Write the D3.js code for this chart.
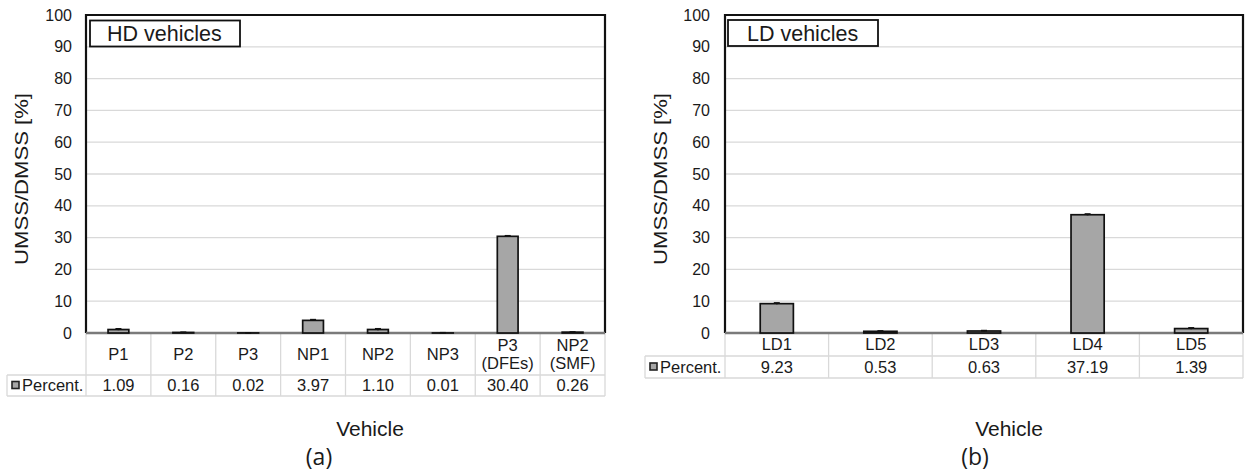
<!DOCTYPE html>
<html>
<head>
<meta charset="utf-8">
<script src="https://cdn.jsdelivr.net/npm/d3@7"></script>
<style>
  html, body { margin: 0; padding: 0; background: #fff; }
  svg { display: block; }
  text { font-family: Arial, "Liberation Sans", sans-serif; fill: #1a1a1a; }
</style>
</head>
<body>
<svg id="chart" width="1246" height="476"></svg>
<script>
// ---- data ----
const yTicks = [0, 10, 20, 30, 40, 50, 60, 70, 80, 90, 100];

const hdCategories = ["P1", "P2", "P3", "NP1", "NP2", "NP3", "P3\n(DFEs)", "NP2\n(SMF)"];
const hdValues = [1.09, 0.16, 0.02, 3.97, 1.10, 0.01, 30.40, 0.26];
const hdErrors = [0.2, 0.05, 0.02, 0.2, 0.2, 0.05, 0.15, 0.05];

const ldCategories = ["LD1", "LD2", "LD3", "LD4", "LD5"];
const ldValues = [9.23, 0.53, 0.63, 37.19, 1.39];
const ldErrors = [0.2, 0.1, 0.1, 0.2, 0.2];

const seriesName = "Percent.";
const yTitle = "UMSS/DMSS [%]";
const xTitle = "Vehicle";

// ---- drawing ----
const svg = d3.select("#chart");
const gridColor = "#d9d9d9";
const barFill = "#a6a6a6";

function drawPanel(o) {
  const g = svg.append("g");
  const x = d3.scaleBand().domain(o.categories).range([o.left, o.right]).padding(0);
  const y = d3.scaleLinear().domain([0, 100]).range([o.bottom, o.top]);

  // gridlines
  g.append("g").selectAll("line").data(yTicks.filter(t => t > 0 && t < 100)).join("line")
    .attr("x1", o.left).attr("x2", o.right)
    .attr("y1", d => y(d)).attr("y2", d => y(d))
    .attr("stroke", gridColor).attr("stroke-width", 1.3);

  // y axis labels via d3 axis
  const yAxis = d3.axisLeft(y).tickValues(yTicks).tickSize(0).tickPadding(0);
  const ya = g.append("g").attr("transform", `translate(${o.tickRight},0)`).call(yAxis);
  ya.select(".domain").remove();
  ya.selectAll("text").style("font-size", "16px").style("font-family", "Arial, 'Liberation Sans', sans-serif").attr("fill", "#1a1a1a");

  // table lines
  const tg = g.append("g").attr("stroke", gridColor).attr("stroke-width", 1.3);
  const edges = o.categories.map(c => x(c)).concat([o.right]);
  tg.selectAll("line.v").data(edges).join("line").attr("class", "v")
    .attr("x1", d => d).attr("x2", d => d)
    .attr("y1", o.bottom).attr("y2", o.valBottom);
  tg.append("line").attr("x1", o.legendLeft).attr("x2", o.right).attr("y1", o.catBottom).attr("y2", o.catBottom);
  tg.append("line").attr("x1", o.legendLeft).attr("x2", o.right).attr("y1", o.valBottom).attr("y2", o.valBottom);
  tg.append("line").attr("x1", o.legendLeft).attr("x2", o.legendLeft).attr("y1", o.catBottom).attr("y2", o.valBottom);

  // plot border (left, top, right) and baseline
  g.append("path")
    .attr("d", `M${o.left},${o.bottom}V${o.top}H${o.right}V${o.bottom}`)
    .attr("fill", "none").attr("stroke", "#111").attr("stroke-width", 2.2);
  g.append("line").attr("x1", o.left).attr("x2", o.right)
    .attr("y1", o.bottom).attr("y2", o.bottom)
    .attr("stroke", "#7a7a7a").attr("stroke-width", 2.5);

  // bars
  const bw = x.bandwidth() * 0.32;
  g.append("g").selectAll("rect").data(o.values).join("rect")
    .attr("x", (d, i) => x(o.categories[i]) + (x.bandwidth() - bw) / 2)
    .attr("y", d => y(d))
    .attr("width", bw)
    .attr("height", d => o.bottom - y(d))
    .attr("fill", barFill).attr("stroke", "#111").attr("stroke-width", 1.7);

  // error bars
  const eg = g.append("g").attr("stroke", "#111").attr("stroke-width", 1.8);
  o.values.forEach((v, i) => {
    const cx = x(o.categories[i]) + x.bandwidth() / 2;
    const e = o.errors[i];
    eg.append("line").attr("x1", cx).attr("x2", cx).attr("y1", y(v - e)).attr("y2", y(v + e));
    eg.append("line").attr("x1", cx - 3).attr("x2", cx + 3).attr("y1", y(v + e)).attr("y2", y(v + e));
  });

  // category labels
  const catMid = (o.bottom + o.catBottom) / 2;
  o.categories.forEach(c => {
    const lines = c.split("\n");
    const cx = x(c) + x.bandwidth() / 2;
    const t = g.append("text").attr("text-anchor", "middle").style("font-size", "16.5px");
    lines.forEach((ln, j) => {
      t.append("tspan").attr("x", cx)
        .attr("y", catMid + (j - (lines.length - 1) / 2) * 18)
        .attr("dy", "0.35em").text(ln);
    });
  });

  // value labels
  const valMid = (o.catBottom + o.valBottom) / 2;
  g.append("g").selectAll("text").data(o.values).join("text")
    .attr("x", (d, i) => x(o.categories[i]) + x.bandwidth() / 2)
    .attr("y", valMid).attr("dy", "0.35em")
    .attr("text-anchor", "middle").style("font-size", "16.5px")
    .text(d => d.toFixed(2));

  // legend key
  g.append("rect").attr("x", o.legendLeft + 5).attr("y", valMid - 4).attr("width", 7).attr("height", 7)
    .attr("fill", barFill).attr("stroke", "#222").attr("stroke-width", 1.6);
  g.append("text").attr("x", o.legendLeft + 15).attr("y", valMid).attr("dy", "0.35em")
    .style("font-size", "16.5px").text(seriesName);

  // title box
  g.append("rect").attr("x", o.box[0]).attr("y", o.box[1]).attr("width", o.box[2]).attr("height", o.box[3])
    .attr("fill", "#fff").attr("stroke", "#111").attr("stroke-width", 1.8);
  g.append("text").attr("x", o.box[0] + o.boxPad).attr("y", o.box[1] + o.box[3] / 2).attr("dy", "0.35em")
    .style("font-size", "21.5px").text(o.label);

  // y title
  g.append("text")
    .attr("transform", `translate(${o.titleX},${(o.top + o.bottom) / 2 + 5}) rotate(-90)`)
    .attr("text-anchor", "middle").attr("dy", "0.35em")
    .attr("textLength", 172).attr("lengthAdjust", "spacingAndGlyphs")
    .style("font-size", "17.5px").text(yTitle);

  // x title
  g.append("text").attr("x", o.xTitleX).attr("y", 436).attr("text-anchor", "middle")
    .style("font-size", "21px").text(xTitle);

  // sub label
  g.append("text").attr("x", o.subX).attr("y", 465).attr("text-anchor", "middle")
    .style("font-family", "'Open Sans', 'Noto Sans', sans-serif").style("font-size", "23px")
    .text(o.sub);
}

drawPanel({
  categories: hdCategories, values: hdValues, errors: hdErrors,
  left: 86, right: 605, top: 15, bottom: 333,
  catBottom: 375, valBottom: 396, legendLeft: 7, tickRight: 72,
  titleX: 22, box: [90, 20.5, 150, 26], boxPad: 17, label: "HD vehicles",
  xTitleX: 370, subX: 319, sub: "(a)"
});

drawPanel({
  categories: ldCategories, values: ldValues, errors: ldErrors,
  left: 725, right: 1243, top: 15, bottom: 333,
  catBottom: 356, valBottom: 378, legendLeft: 645, tickRight: 710,
  titleX: 661, box: [728, 20, 150, 26], boxPad: 19, label: "LD vehicles",
  xTitleX: 1009, subX: 975, sub: "(b)"
});
</script>
</body>
</html>
